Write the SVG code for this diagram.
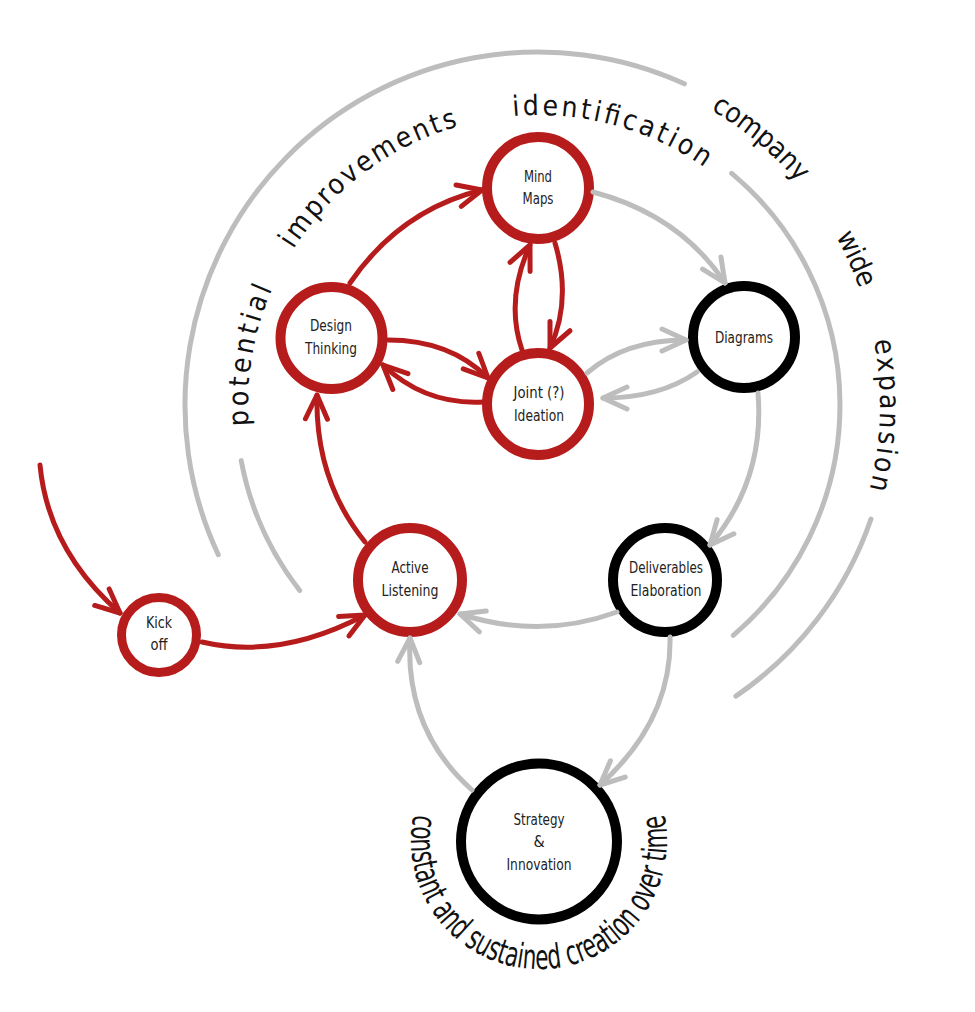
<svg xmlns="http://www.w3.org/2000/svg" width="975" height="1012" viewBox="0 0 975 1012">
<style>
.arc{fill:none;stroke:#bdbdbd;stroke-width:5;stroke-linecap:round}
.red{fill:none;stroke:#b71c1c;stroke-width:5;stroke-linecap:round}
.gray{fill:none;stroke:#bdbdbd;stroke-width:5;stroke-linecap:round}
.ringR{fill:#fff;stroke:#b71c1c;stroke-width:10}
.ringK{fill:#fff;stroke:#000;stroke-width:10}
.lbl{font-family:"Liberation Sans Narrow","DejaVu Sans Condensed","Liberation Sans",sans-serif;font-size:16px;fill:#222;text-anchor:middle}
.ring-text{font-family:"Liberation Sans Narrow","DejaVu Sans Condensed","Liberation Sans",sans-serif;font-size:28px;fill:#111}
.bottom-text{font-family:"Liberation Sans Narrow","DejaVu Sans Condensed","Liberation Sans",sans-serif;font-size:34px;fill:#111}
</style>
<defs>
<marker id="ahR" markerUnits="userSpaceOnUse" viewBox="-30 -16 34 32" markerWidth="34" markerHeight="32" refX="0" refY="0" orient="auto">
<path d="M-24,-11 L0,0 L-24,11" fill="none" stroke="#b71c1c" stroke-width="5" stroke-linecap="round" stroke-linejoin="round"/>
</marker>
<marker id="ahG" markerUnits="userSpaceOnUse" viewBox="-30 -16 34 32" markerWidth="34" markerHeight="32" refX="0" refY="0" orient="auto">
<path d="M-24,-11 L0,0 L-24,11" fill="none" stroke="#bdbdbd" stroke-width="5" stroke-linecap="round" stroke-linejoin="round"/>
</marker>
<path id="tp1" d="M252.4,455.4 A290,290 0 0 1 724.4,182.9"/>
<path id="tp2" d="M682.5,95.0 A342,342 0 0 1 859.4,522.0"/>
<path id="tp3" d="M414.3,812.2 A128,128 0 1 0 663.7,812.2"/>
</defs>
<rect width="975" height="1012" fill="#fff"/>

<g id="rings">
<path class="arc" d="M218.3,554.7 A353,353 0 0 1 684.4,83.8"/>
<path class="arc" d="M871.0,519.0 A352,352 0 0 1 735.9,696.1"/>
<path class="arc" d="M299.7,590.5 A302,302 0 0 1 241.2,460.6"/>
<path class="arc" d="M731.7,173.3 A302,302 0 0 1 733.3,635.3"/>
</g>

<g id="ring-labels">
<text class="ring-text"><textPath href="#tp1" startOffset="30" textLength="140" lengthAdjust="spacing">potential</textPath></text>
<text class="ring-text"><textPath href="#tp1" startOffset="215" textLength="210" lengthAdjust="spacing">improvements</textPath></text>
<text class="ring-text"><textPath href="#tp1" startOffset="481" textLength="202" lengthAdjust="spacing">identification</textPath></text>
<text class="ring-text"><textPath href="#tp2" startOffset="32" textLength="114" lengthAdjust="spacing">company</textPath></text>
<text class="ring-text"><textPath href="#tp2" startOffset="212" textLength="57" lengthAdjust="spacing">wide</textPath></text>
<text class="ring-text"><textPath href="#tp2" startOffset="323" textLength="150" lengthAdjust="spacing">expansion</textPath></text>
<text class="bottom-text"><textPath href="#tp3" startOffset="2" textLength="456" lengthAdjust="spacingAndGlyphs">constant and sustained creation over time</textPath></text>
</g>

<g id="node-mindmaps"><circle class="ringR" cx="538" cy="188" r="51"/><text class="lbl" x="538" y="182" textLength="28" lengthAdjust="spacingAndGlyphs">Mind</text><text class="lbl" x="538" y="204" textLength="31" lengthAdjust="spacingAndGlyphs">Maps</text></g>
<g id="node-diagrams"><circle class="ringK" cx="744" cy="337" r="51"/><text class="lbl" x="744" y="343" textLength="58" lengthAdjust="spacingAndGlyphs">Diagrams</text></g>
<g id="node-joint"><circle class="ringR" cx="538" cy="404" r="51"/><text class="lbl" x="539" y="398" textLength="51" lengthAdjust="spacingAndGlyphs">Joint (?)</text><text class="lbl" x="539" y="421" textLength="50" lengthAdjust="spacingAndGlyphs">Ideation</text></g>
<g id="node-design"><circle class="ringR" cx="331.5" cy="338" r="51"/><text class="lbl" x="331" y="331" textLength="42" lengthAdjust="spacingAndGlyphs">Design</text><text class="lbl" x="331" y="354" textLength="52" lengthAdjust="spacingAndGlyphs">Thinking</text></g>
<g id="node-active"><circle class="ringR" cx="410" cy="580" r="52"/><text class="lbl" x="410" y="573" textLength="37" lengthAdjust="spacingAndGlyphs">Active</text><text class="lbl" x="410" y="596" textLength="57" lengthAdjust="spacingAndGlyphs">Listening</text></g>
<g id="node-kickoff"><circle cx="159" cy="635" r="37.5" fill="#fff" stroke="#b71c1c" stroke-width="9"/><text class="lbl" x="159" y="628" textLength="26" lengthAdjust="spacingAndGlyphs">Kick</text><text class="lbl" x="159" y="650" textLength="17" lengthAdjust="spacingAndGlyphs">off</text></g>
<g id="node-deliverables"><circle class="ringK" cx="665" cy="580" r="52"/><text class="lbl" x="666" y="573" textLength="74" lengthAdjust="spacingAndGlyphs">Deliverables</text><text class="lbl" x="666" y="596" textLength="71" lengthAdjust="spacingAndGlyphs">Elaboration</text></g>
<g id="node-strategy"><circle class="ringK" cx="539" cy="841.5" r="78"/><text class="lbl" x="539" y="825" font-size="15" textLength="51" lengthAdjust="spacingAndGlyphs">Strategy</text><text class="lbl" x="539" y="847" font-size="15">&amp;</text><text class="lbl" x="539" y="870" font-size="15" textLength="65" lengthAdjust="spacingAndGlyphs">Innovation</text></g>

<g id="connectors">
<path class="red" marker-end="url(#ahR)" d="M40,465 Q48,550 120,613"/>
<path class="red" marker-end="url(#ahR)" d="M202,642 Q280,660 365,615"/>
<path class="red" marker-end="url(#ahR)" d="M365,542 Q315,480 317,395"/>
<path class="red" marker-end="url(#ahR)" d="M350,283 Q400,210 482,190"/>
<path class="red" marker-end="url(#ahR)" d="M388,340 Q450,340 488,378"/>
<path class="red" marker-end="url(#ahR)" d="M483,402 Q425,405 383,365"/>
<path class="red" marker-end="url(#ahR)" d="M522,350 Q505,300 530,245"/>
<path class="red" marker-end="url(#ahR)" d="M555,243 Q572,300 550,348"/>
<path class="gray" marker-end="url(#ahG)" d="M593,192 Q680,215 725,283"/>
<path class="gray" marker-end="url(#ahG)" d="M587,373 Q625,340 686,340"/>
<path class="gray" marker-end="url(#ahG)" d="M697,372 Q660,398 603,398"/>
<path class="gray" marker-end="url(#ahG)" d="M758,393 Q765,480 710,545"/>
<path class="gray" marker-end="url(#ahG)" d="M617,612 Q540,640 460,614"/>
<path class="gray" marker-end="url(#ahG)" d="M670,637 Q672,720 600,785"/>
<path class="gray" marker-end="url(#ahG)" d="M472,790 Q405,730 410,638"/>
</g>
</svg>
